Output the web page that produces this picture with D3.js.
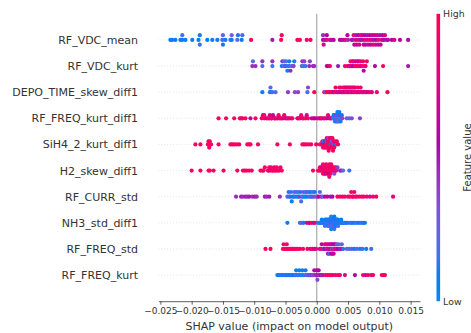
<!DOCTYPE html>
<html><head><meta charset="utf-8">
<script src="https://cdn.jsdelivr.net/npm/d3@7"></script>
<style>body{margin:0;background:#fff}svg{display:block}text{font-family:"DejaVu Sans",sans-serif}</style>
</head><body><svg id="c" width="471" height="333"></svg>
<script>
// Feature names, top to bottom
const features = ["RF_VDC_mean","RF_VDC_kurt","DEPO_TIME_skew_diff1","RF_FREQ_kurt_diff1","SiH4_2_kurt_diff1","H2_skew_diff1","RF_CURR_std","NH3_std_diff1","RF_FREQ_std","RF_FREQ_kurt"];
// Each point: [SHAP value, normalised feature value 0..1]
const RF_VDC_mean = [[-0.0234,0.05],[-0.0231,0.1],[-0.0226,0.05],[-0.0218,0.1],[-0.0215,0.1],[-0.0215,0.15],[-0.0210,0.05],[-0.0199,0.1],[-0.0189,0.05],[-0.0187,0.1],[-0.0187,0.15],[-0.0175,0.05],[-0.0167,0.1],[-0.0159,0.1],[-0.0151,0.15],[-0.0150,0.2],[-0.0150,0.1],[-0.0146,0.1],[-0.0138,0.15],[-0.0136,0.1],[-0.0136,0.25],[-0.0127,0.2],[-0.0126,0.1],[-0.0120,0.1],[-0.0119,0.15],
[-0.0105,0.95],[-0.0071,0.5],[-0.0057,0.95],[-0.0056,0.9],[-0.0031,0.95],[-0.0027,0.95],[-0.0016,0.9],[-0.0010,0.9],
[0.0010,0.6],[0.0010,0.45],[0.0011,0.7],[0.0013,0.5],[0.0016,0.8],[0.0016,0.55],[0.0021,0.75],[0.0024,0.5],[0.0027,0.6],
[0.0037,0.55],[0.0040,0.7],[0.0043,0.5],[0.0046,0.8],[0.0049,0.6],[0.0050,0.45],
[0.0056,0.7],[0.0057,0.5],[0.0059,0.85],[0.0060,0.6],[0.0062,0.75],[0.0063,0.5],[0.0064,0.65],[0.0066,0.8],[0.0067,0.55],[0.0068,0.7],[0.0070,0.6],[0.0071,0.85],[0.0072,0.5],[0.0073,0.7],[0.0075,0.65],[0.0076,0.8],[0.0077,0.55],[0.0078,0.6],[0.0080,0.75],[0.0081,0.5],[0.0082,0.7],[0.0084,0.85],[0.0085,0.6],[0.0086,0.55],[0.0088,0.7],[0.0089,0.65],[0.0090,0.8],[0.0091,0.5],[0.0093,0.6],[0.0094,0.75],[0.0095,0.55],[0.0097,0.7],[0.0098,0.6],[0.0099,0.85],[0.0101,0.5],[0.0102,0.65],[0.0104,0.7],[0.0105,0.55],[0.0107,0.6],[0.0109,0.75],[0.0111,0.5],[0.0114,0.6],[0.0120,0.55],[0.0124,0.7],[0.0133,0.6],[0.0146,0.55]];
const RF_VDC_kurt = [[-0.0103,0.45],[-0.0102,0.2],[-0.0098,0.45],[-0.0087,0.2],[-0.0087,0.45],[-0.0071,0.15],[-0.0071,0.45],[-0.0056,0.1],[-0.0055,0.45],[-0.0053,0.2],[-0.0052,0.15],[-0.0050,0.45],[-0.0049,0.1],[-0.0049,0.2],[-0.0047,0.05],[-0.0045,0.4],[-0.0044,0.15],[-0.0044,0.1],[-0.0042,0.45],[-0.0040,0.2],[-0.0038,0.15],[-0.0037,0.4],[-0.0036,0.1],[-0.0024,0.15],[-0.0023,0.45],[-0.0021,0.2],[-0.0020,0.4],[-0.0018,0.15],[-0.0012,0.45],[-0.0011,0.4],[-0.0006,0.5],[-0.0004,0.45],
[0.0016,0.85],[0.0018,0.55],[0.0021,0.9],[0.0034,0.5],[0.0045,0.85],[0.0049,0.9],[0.0052,0.6],[0.0053,0.85],[0.0054,0.95],[0.0056,0.7],[0.0057,0.9],[0.0058,0.55],[0.0059,0.85],[0.0061,0.9],[0.0062,0.65],[0.0063,0.95],[0.0065,0.8],[0.0066,0.9],[0.0067,0.6],[0.0069,0.85],[0.0070,0.95],[0.0071,0.7],[0.0073,0.9],[0.0074,0.8],[0.0075,0.6],[0.0077,0.9],[0.0078,0.85],[0.0080,0.95],[0.0093,0.55],[0.0106,0.95],[0.0146,0.5]];
const DEPO_TIME_skew_diff1 = [[-0.0087,0.1],[-0.0075,0.15],[-0.0074,0.2],[-0.0073,0.1],[-0.0071,0.15],[-0.0066,0.2],[-0.0046,0.4],[-0.0035,0.35],[-0.0030,0.4],[-0.0015,0.2],[-0.0014,0.35],[-0.0004,0.95],
[0.0012,0.9],[0.0014,0.2],[0.0016,0.95],[0.0019,0.85],[0.0021,0.9],[0.0024,0.95],[0.0026,0.85],[0.0027,0.6],[0.0029,0.9],[0.0030,0.95],[0.0032,0.85],[0.0033,0.6],[0.0035,0.9],[0.0036,0.95],[0.0037,0.7],[0.0038,0.85],[0.0040,0.9],[0.0041,0.6],[0.0042,0.95],[0.0043,0.8],[0.0044,0.9],[0.0045,0.55],[0.0046,0.85],[0.0047,0.95],[0.0048,0.65],[0.0049,0.9],[0.0050,0.85],[0.0051,0.6],[0.0052,0.95],[0.0053,0.9],[0.0054,0.7],[0.0055,0.85],[0.0056,0.95],[0.0057,0.6],[0.0058,0.9],[0.0059,0.8],[0.0060,0.65],[0.0061,0.9],[0.0062,0.95],[0.0064,0.6],[0.0065,0.85],[0.0066,0.9],[0.0068,0.55],[0.0069,0.9],[0.0070,0.85],[0.0072,0.6],[0.0073,0.9],[0.0075,0.95],[0.0077,0.65],[0.0079,0.85],[0.0082,0.6],[0.0085,0.9],[0.0088,0.7],[0.0096,0.95],[0.0113,0.95]];
const RF_FREQ_kurt_diff1 = [[-0.0157,0.95],[-0.0145,0.95],[-0.0132,0.95],[-0.0123,0.9],[-0.0121,0.95],[-0.0119,0.85],[-0.0114,0.95],[-0.0106,0.6],[-0.0098,0.95],[-0.0088,0.9],[-0.0086,0.7],[-0.0084,0.95],[-0.0084,0.85],[-0.0080,0.6],[-0.0078,0.95],[-0.0076,0.9],[-0.0075,0.7],[-0.0073,0.95],[-0.0072,0.85],[-0.0070,0.6],[-0.0068,0.9],[-0.0067,0.95],[-0.0065,0.7],[-0.0063,0.9],[-0.0061,0.95],[-0.0060,0.65],[-0.0058,0.9],[-0.0056,0.95],[-0.0054,0.7],[-0.0052,0.9],[-0.0050,0.95],[-0.0048,0.6],[-0.0046,0.9],[-0.0044,0.95],[-0.0041,0.7],[-0.0039,0.9],[-0.0031,0.95],[-0.0029,0.6],[-0.0027,0.9],[-0.0025,0.95],[-0.0023,0.65],[-0.0021,0.9],[-0.0018,0.95],[-0.0016,0.7],[-0.0014,0.9],[-0.0008,0.6],[-0.0005,0.7],[-0.0003,0.55],[0.0001,0.65],[0.0004,0.9],[0.0006,0.55],[0.0008,0.95],[0.0011,0.6],[0.0013,0.9],[0.0016,0.65],[0.0018,0.85],[0.0020,0.6],[0.0022,0.9],[0.0024,0.5],
[0.0026,0.3],[0.0027,0.1],[0.0028,0.2],[0.0028,0.05],[0.0029,0.15],[0.0030,0.1],[0.0030,0.35],[0.0031,0.05],[0.0032,0.2],[0.0032,0.1],[0.0033,0.15],[0.0033,0.05],[0.0034,0.3],[0.0035,0.1],[0.0035,0.2],[0.0036,0.05],[0.0037,0.15],[0.0037,0.4],[0.0038,0.1],[0.0039,0.2],[0.0040,0.1],[0.0041,0.35],
[0.0048,0.3],[0.0052,0.2],[0.0056,0.35],[0.0069,0.4]];
const SiH4_2_kurt_diff1 = [[-0.0194,0.95],[-0.0186,0.95],[-0.0174,0.95],[-0.0173,0.9],[-0.0172,0.95],[-0.0171,0.95],[-0.0172,0.95],[-0.0169,0.9],[-0.0157,0.95],[-0.0138,0.95],[-0.0135,0.9],[-0.0132,0.95],[-0.0128,0.95],[-0.0124,0.9],[-0.0111,0.95],[-0.0108,0.95],[-0.0106,0.9],[-0.0094,0.95],[-0.0063,0.95],[-0.0043,0.95],[-0.0023,0.95],[-0.0020,0.9],[-0.0017,0.95],[-0.0013,0.95],[-0.0009,0.9],[-0.0001,0.95],
[0.0005,0.95],[0.0007,0.1],[0.0008,0.9],[0.0009,0.95],[0.0010,0.85],[0.0011,0.95],[0.0011,0.2],[0.0012,0.9],[0.0013,0.95],[0.0013,0.6],[0.0014,0.95],[0.0015,0.9],[0.0015,0.1],[0.0016,0.95],[0.0016,0.85],[0.0017,0.95],[0.0018,0.9],[0.0018,0.95],[0.0019,0.3],[0.0019,0.95],[0.0020,0.9],[0.0020,0.95],[0.0021,0.85],[0.0021,0.95],[0.0022,0.1],[0.0022,0.9],[0.0023,0.95],[0.0023,0.95],[0.0024,0.85],[0.0024,0.2],[0.0025,0.95],[0.0025,0.9],[0.0026,0.95],[0.0027,0.15],[0.0027,0.9],[0.0028,0.95],[0.0029,0.9],[0.0030,0.95],[0.0031,0.1],[0.0032,0.9],[0.0034,0.95]];
const H2_skew_diff1 = [[-0.0200,0.95],[-0.0186,0.95],[-0.0173,0.95],[-0.0171,0.95],[-0.0165,0.95],[-0.0149,0.95],[-0.0127,0.95],[-0.0118,0.95],[-0.0115,0.9],[-0.0112,0.95],[-0.0108,0.95],[-0.0104,0.9],[-0.0090,0.95],[-0.0087,0.9],[-0.0085,0.95],[-0.0083,0.95],[-0.0078,0.95],[-0.0077,0.9],[-0.0076,0.95],[-0.0074,0.7],[-0.0073,0.95],[-0.0071,0.9],[-0.0070,0.95],[-0.0068,0.85],[-0.0067,0.95],[-0.0065,0.9],[-0.0064,0.95],[-0.0062,0.8],[-0.0060,0.95],[-0.0058,0.9],[-0.0056,0.95],[-0.0006,0.95],
[0.0002,0.95],[0.0004,0.9],[0.0005,0.95],[0.0006,0.85],[0.0007,0.95],[0.0008,0.9],[0.0009,0.6],[0.0010,0.95],[0.0010,0.9],[0.0011,0.95],[0.0012,0.85],[0.0012,0.95],[0.0013,0.9],[0.0014,0.95],[0.0014,0.6],[0.0015,0.9],[0.0016,0.95],[0.0016,0.85],[0.0017,0.95],[0.0018,0.9],[0.0018,0.95],[0.0019,0.55],[0.0020,0.95],[0.0020,0.9],[0.0021,0.95],[0.0022,0.85],[0.0022,0.95],[0.0023,0.9],[0.0024,0.95],[0.0025,0.65],[0.0026,0.9],[0.0027,0.95],[0.0028,0.3],[0.0029,0.9],[0.0030,0.95],[0.0031,0.85],[0.0033,0.4],
[0.0037,0.3],[0.0039,0.5],[0.0042,0.2],[0.0052,0.15]];
const RF_CURR_std = [[-0.0129,0.45],[-0.0121,0.5],[-0.0118,0.45],[-0.0114,0.5],[-0.0111,0.45],[-0.0108,0.5],[-0.0103,0.45],[-0.0099,0.5],[-0.0096,0.45],[-0.0083,0.5],[-0.0080,0.45],[-0.0076,0.5],[-0.0059,0.45],
[-0.0047,0.15],[-0.0045,0.1],[-0.0044,0.3],[-0.0042,0.1],[-0.0041,0.15],[-0.0040,0.05],[-0.0038,0.4],[-0.0037,0.1],[-0.0036,0.15],[-0.0034,0.1],[-0.0033,0.3],[-0.0031,0.05],[-0.0030,0.15],[-0.0029,0.1],[-0.0027,0.4],[-0.0026,0.1],[-0.0025,0.2],[-0.0023,0.05],[-0.0022,0.15],[-0.0021,0.35],[-0.0019,0.1],[-0.0018,0.15],[-0.0017,0.05],[-0.0015,0.4],[-0.0014,0.1],[-0.0013,0.2],[-0.0011,0.15],[-0.0010,0.05],[-0.0009,0.35],[-0.0007,0.1],[-0.0006,0.15],[-0.0004,0.4],[-0.0003,0.1],[-0.0001,0.2],[0.0001,0.35],[0.0003,0.6],[0.0005,0.15],[0.0007,0.5],[0.0009,0.2],
[0.0013,0.55],[0.0017,0.6],[0.0022,0.5],[0.0025,0.55],
[0.0033,0.9],[0.0037,0.95],[0.0041,0.9],[0.0045,0.95],[0.0050,0.85],[0.0053,0.95],[0.0055,0.9],[0.0057,0.95],[0.0058,0.85],[0.0060,0.9],[0.0062,0.95],[0.0064,0.9],[0.0068,0.95],[0.0072,0.9],[0.0075,0.85],[0.0080,0.9],[0.0085,0.75],[0.0090,0.9],[0.0095,0.95],[0.0122,0.8]];
const NH3_std_diff1 = [[-0.0047,0.1],[-0.0027,0.15],[-0.0024,0.3],[-0.0021,0.1],[-0.0016,0.5],[-0.0013,0.9],[-0.0011,0.6],[-0.0008,0.95],[-0.0005,0.5],[-0.0003,0.85],
[0.0002,0.1],[0.0004,0.15],[0.0005,0.05],[0.0006,0.2],[0.0007,0.1],[0.0008,0.05],[0.0009,0.15],[0.0010,0.1],[0.0011,0.3],[0.0012,0.05],[0.0013,0.1],[0.0013,0.2],[0.0014,0.05],[0.0015,0.15],[0.0015,0.1],[0.0016,0.05],[0.0017,0.2],[0.0017,0.1],[0.0018,0.05],[0.0019,0.15],[0.0019,0.1],[0.0020,0.05],[0.0020,0.1],[0.0020,0.15],[0.0021,0.25],[0.0021,0.1],[0.0022,0.05],[0.0022,0.1],[0.0022,0.2],[0.0023,0.15],[0.0023,0.1],[0.0024,0.05],[0.0024,0.1],[0.0024,0.15],[0.0025,0.2],[0.0025,0.1],[0.0026,0.05],[0.0026,0.1],[0.0026,0.2],[0.0027,0.15],[0.0027,0.1],[0.0028,0.3],[0.0028,0.05],[0.0028,0.15],[0.0029,0.05],[0.0029,0.1],[0.0030,0.15],[0.0030,0.1],[0.0030,0.05],[0.0031,0.05],[0.0031,0.1],[0.0032,0.2],[0.0032,0.1],[0.0033,0.05],[0.0034,0.1],[0.0034,0.15],[0.0035,0.15],[0.0036,0.05],[0.0037,0.1],[0.0038,0.2],[0.0039,0.05],[0.0040,0.1],[0.0041,0.15],[0.0042,0.05],[0.0044,0.1],[0.0045,0.2],[0.0047,0.05],[0.0049,0.1],
[0.0053,0.1],[0.0055,0.15],[0.0058,0.05],[0.0060,0.1],[0.0063,0.2],[0.0066,0.05],[0.0069,0.1],[0.0072,0.15],[0.0074,0.05],[0.0077,0.1]];
const RF_FREQ_std = [[-0.0082,0.95],[-0.0074,0.95],[-0.0054,0.95],[-0.0053,0.9],[-0.0051,0.95],[-0.0049,0.95],[-0.0048,0.9],[-0.0046,0.95],[-0.0044,0.95],[-0.0042,0.9],[-0.0040,0.95],[-0.0038,0.95],[-0.0036,0.9],[-0.0033,0.95],[-0.0030,0.95],[-0.0027,0.9],[-0.0022,0.95],[-0.0015,0.95],[-0.0010,0.7],[-0.0007,0.9],[-0.0004,0.6],[-0.0001,0.85],
[0.0005,0.6],[0.0007,0.9],[0.0008,0.55],[0.0010,0.7],[0.0011,0.2],[0.0012,0.6],[0.0013,0.9],[0.0014,0.55],[0.0015,0.65],[0.0016,0.3],[0.0017,0.6],[0.0017,0.85],[0.0018,0.55],[0.0019,0.7],[0.0020,0.6],[0.0020,0.2],[0.0021,0.9],[0.0022,0.55],[0.0022,0.65],[0.0023,0.6],[0.0024,0.35],[0.0024,0.7],[0.0025,0.55],[0.0026,0.9],[0.0026,0.6],[0.0027,0.65],[0.0028,0.25],[0.0028,0.55],[0.0029,0.7],[0.0030,0.6],[0.0031,0.85],[0.0032,0.3],[0.0033,0.6],[0.0034,0.55],[0.0035,0.2],[0.0036,0.65],[0.0038,0.15],[0.0039,0.6],[0.0040,0.25],[0.0042,0.1],
[0.0048,0.2],[0.0052,0.15],[0.0056,0.3],[0.0060,0.1],[0.0064,0.2],[0.0069,0.1],[0.0073,0.15],[0.0079,0.1],[0.0087,0.15]];
const RF_FREQ_kurt = [[-0.0063,0.05],[-0.0061,0.1],[-0.0059,0.05],[-0.0057,0.15],[-0.0055,0.1],[-0.0053,0.05],[-0.0051,0.1],[-0.0049,0.2],[-0.0048,0.05],[-0.0046,0.1],[-0.0044,0.15],[-0.0043,0.05],[-0.0041,0.1],[-0.0039,0.2],[-0.0038,0.05],[-0.0036,0.1],[-0.0034,0.15],[-0.0033,0.05],[-0.0031,0.1],[-0.0029,0.2],[-0.0028,0.1],[-0.0026,0.05],[-0.0024,0.15],[-0.0023,0.1],[-0.0021,0.05],[-0.0019,0.2],[-0.0018,0.1],[-0.0016,0.15],[-0.0014,0.3],[-0.0013,0.1],[-0.0011,0.45],[-0.0010,0.2],[-0.0008,0.5],[-0.0007,0.15],[-0.0005,0.4],[-0.0004,0.55],[-0.0002,0.25],[-0.0001,0.5],[0.0000,0.45],[0.0000,0.6],[0.0001,0.35],[0.0002,0.5],[0.0003,0.55],[0.0004,0.4],[0.0006,0.6],[0.0008,0.45],[0.0010,0.5],
[0.0014,0.9],[0.0017,0.85],[0.0020,0.95],[0.0023,0.9],[0.0026,0.8],[0.0030,0.95],[0.0034,0.9],[0.0037,0.85],[0.0045,0.75],[0.0061,0.55],[0.0074,0.9],[0.0078,0.7],[0.0082,0.9],[0.0087,0.95],[0.0090,0.8],[0.0104,0.95],[0.0107,0.9],[0.0109,0.95]];

const rowData = [RF_VDC_mean, RF_VDC_kurt, DEPO_TIME_skew_diff1, RF_FREQ_kurt_diff1, SiH4_2_kurt_diff1, H2_skew_diff1, RF_CURR_std, NH3_std_diff1, RF_FREQ_std, RF_FREQ_kurt];
const xTicks = [-0.025,-0.020,-0.015,-0.010,-0.005,0.000,0.005,0.010,0.015];
const xLabel = "SHAP value (impact on model output)";
const colorbarLabels = {low: "Low", high: "High", title: "Feature value"};

// SHAP red_blue colormap (LCH interpolation with darker middle)
function shapColor(t) {
  t = Math.max(0, Math.min(1, t));
  const l = t < 0.5 ? 54 + (40 - 54) * (t / 0.5) : 40 + (54 - 40) * ((t - 0.5) / 0.5);
  const c = 70 + 20 * t;
  const h = 266.93 + (380.32 - 266.93) * t;
  return d3.hcl(h % 360, c, l).formatRgb();
}

const svg = d3.select("#c");
const n = features.length;
const x = d3.scaleLinear().domain([-0.0253, 0.0165]).range([158.5, 420]);
const y = d3.scaleLinear().domain([-1, n]).range([301.2, 13.8]);
const axisColor = "#333333";

// grid lines
features.forEach((f, i) => {
  const p = n - 1 - i;
  svg.append("line").attr("x1", x.range()[0]).attr("x2", x.range()[1])
    .attr("y1", y(p)).attr("y2", y(p))
    .attr("stroke", "#cccccc").attr("stroke-width", 0.7).attr("stroke-dasharray", "0.7,2.2");
});
// zero line
svg.append("line").attr("x1", x(0)).attr("x2", x(0)).attr("y1", y(-1)).attr("y2", y(n))
  .attr("stroke", "#999999").attr("stroke-width", 1);

// beeswarm layout (SHAP algorithm)
function swarm(vals) {
  const s = vals.map(d => d[0]);
  const mn = d3.min(s), mx = d3.max(s);
  const quant = s.map(v => Math.round(100 * (v - mn) / (mx - mn + 1e-8)));
  const inds = d3.range(s.length).sort((a, b) => quant[a] - quant[b] || a - b);
  let layer = 0, last = -1;
  const ys = new Array(s.length).fill(0);
  for (const i of inds) {
    if (quant[i] !== last) layer = 0;
    ys[i] = Math.ceil(layer / 2) * ((layer % 2) * 2 - 1);
    layer++; last = quant[i];
  }
  const m = d3.max(ys) + 1;
  return ys.map(v => v * 0.9 * (0.4 / m));
}

const dots = svg.append("g");
rowData.forEach((vals, i) => {
  const p = n - 1 - i;
  const off = swarm(vals);
  dots.selectAll(null).data(vals).enter().append("circle")
    .attr("cx", d => x(d[0]))
    .attr("cy", (d, j) => y(p + off[j]))
    .attr("r", 2.1)
    .attr("fill", d => shapColor(d[1]));
});

// y labels
features.forEach((f, i) => {
  const p = n - 1 - i;
  svg.append("text").attr("x", 138).attr("y", y(p)).attr("dy", "0.36em")
    .attr("text-anchor", "end").attr("font-size", 11).attr("fill", axisColor).text(f);
});

// x axis
const axis = d3.axisBottom(x).tickValues(xTicks).tickFormat(d3.format(".3f"))
  .tickSizeInner(3.5).tickSizeOuter(0).tickPadding(2.5);
const ax = svg.append("g").attr("transform", `translate(0,${y(-1)})`).call(axis);
ax.select(".domain").attr("stroke", axisColor).attr("stroke-width", 0.8);
ax.selectAll(".tick line").attr("stroke", axisColor).attr("stroke-width", 0.8);
ax.selectAll(".tick text").attr("fill", axisColor).attr("font-size", 9).attr("font-family", "DejaVu Sans");

svg.append("text").attr("x", (x.range()[0] + x.range()[1]) / 2).attr("y", 329.5)
  .attr("text-anchor", "middle").attr("font-size", 11).attr("fill", axisColor).text(xLabel);

// colorbar
const defs = svg.append("defs");
const grad = defs.append("linearGradient").attr("id", "cbg").attr("x1", 0).attr("y1", 1).attr("x2", 0).attr("y2", 0);
d3.range(0, 1.0001, 0.05).forEach(t => grad.append("stop").attr("offset", t).attr("stop-color", shapColor(t)));
const cbX = 436.5, cbW = 3.6, cbTop = y(n), cbBot = y(-1);
svg.append("rect").attr("x", cbX).attr("y", cbTop).attr("width", cbW).attr("height", cbBot - cbTop).attr("fill", "url(#cbg)");
svg.append("text").attr("x", cbX + cbW + 3).attr("y", cbTop).attr("dy", "0.36em")
  .attr("font-size", 9.4).attr("fill", axisColor).text(colorbarLabels.high);
svg.append("text").attr("x", cbX + cbW + 3).attr("y", cbBot).attr("dy", "0.36em")
  .attr("font-size", 9.4).attr("fill", axisColor).text(colorbarLabels.low);
svg.append("text").attr("transform", `translate(470.5,${(cbTop + cbBot) / 2}) rotate(-90)`)
  .attr("text-anchor", "middle").attr("font-size", 10).attr("fill", axisColor).text(colorbarLabels.title);
</script></body></html>
